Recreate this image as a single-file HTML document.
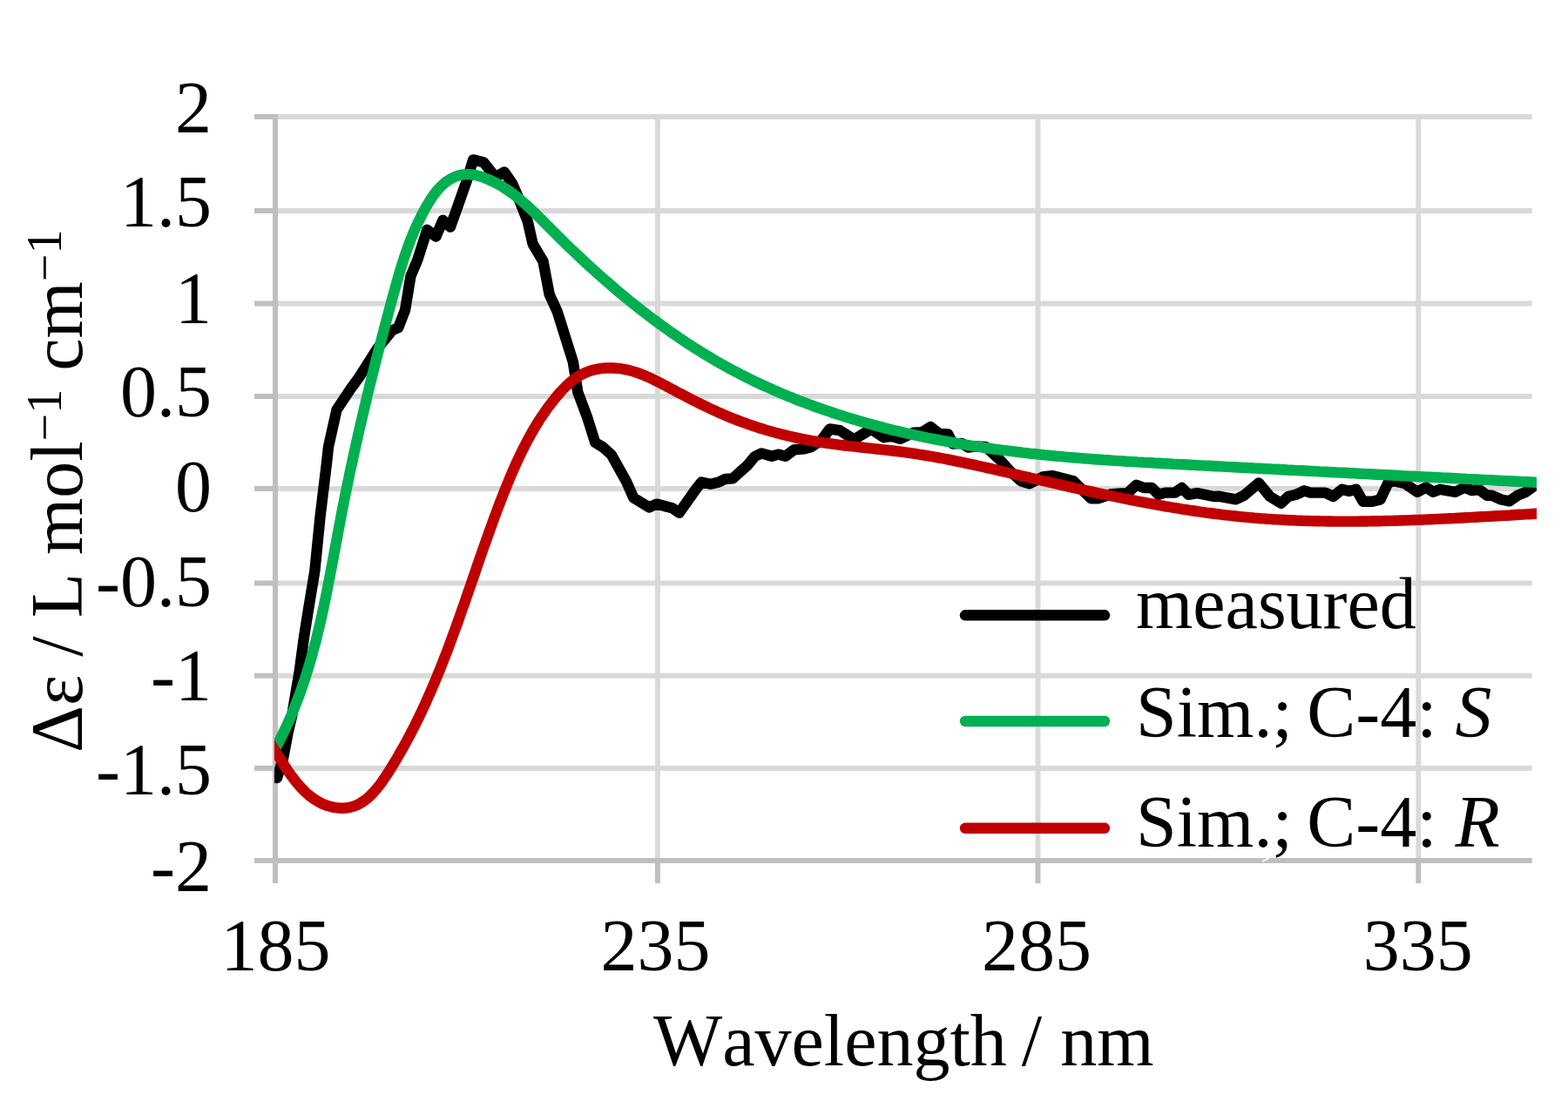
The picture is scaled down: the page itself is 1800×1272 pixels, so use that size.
<!DOCTYPE html>
<html><head><meta charset="utf-8"><style>html,body{margin:0;padding:0;background:#fff;}svg{display:block;}</style></head>
<body><svg width="1800" height="1272" viewBox="0 0 1800 1272">
<rect width="1800" height="1272" fill="#fff"/>
<g stroke="#d9d9d9" stroke-width="6"><line x1="316" y1="134" x2="1758.7" y2="134"/><line x1="316" y1="242" x2="1758.7" y2="242"/><line x1="316" y1="348.5" x2="1758.7" y2="348.5"/><line x1="316" y1="455" x2="1758.7" y2="455"/><line x1="316" y1="561" x2="1758.7" y2="561"/><line x1="316" y1="669.5" x2="1758.7" y2="669.5"/><line x1="316" y1="775.7" x2="1758.7" y2="775.7"/><line x1="316" y1="881.9" x2="1758.7" y2="881.9"/><line x1="754.9" y1="131" x2="754.9" y2="988"/><line x1="1191.5" y1="131" x2="1191.5" y2="988"/><line x1="1628.3" y1="131" x2="1628.3" y2="988"/></g>
<g stroke="#bfbfbf" stroke-width="6"><line x1="316" y1="131" x2="316" y2="1014"/><line x1="292" y1="988" x2="1758.7" y2="988"/><line x1="292" y1="134" x2="316" y2="134"/><line x1="292" y1="242" x2="316" y2="242"/><line x1="292" y1="348.5" x2="316" y2="348.5"/><line x1="292" y1="455" x2="316" y2="455"/><line x1="292" y1="561" x2="316" y2="561"/><line x1="292" y1="669.5" x2="316" y2="669.5"/><line x1="292" y1="775.7" x2="316" y2="775.7"/><line x1="292" y1="881.9" x2="316" y2="881.9"/><line x1="754.9" y1="988" x2="754.9" y2="1014"/><line x1="1191.5" y1="988" x2="1191.5" y2="1014"/><line x1="1628.3" y1="988" x2="1628.3" y2="1014"/></g>
<defs><clipPath id="pc"><rect x="315" y="0" width="1449" height="1272"/></clipPath></defs>
<g clip-path="url(#pc)" fill="none" stroke-linejoin="round" stroke-linecap="round">
<path d="M318.0,893.0 L324.9,871.4 L330.8,840.0 L335.0,822.6 L343.5,772.0 L349.0,731.4 L354.0,700.0 L361.3,655.8 L367.6,592.9 L375.2,530.0 L377.0,513.0 L386.5,470.5 L402.2,446.9 L412.4,432.8 L433.6,399.7 L450.2,379.3 L457.2,376.2 L465.1,355.7 L471.4,317.2 L479.3,298.4 L490.3,263.8 L500.5,271.6 L508.4,252.8 L517.0,260.6 L526.5,233.9 L535.9,207.2 L543.2,183.4 L555.0,186.2 L568.7,203.3 L579.0,197.5 L588.0,210.5 L594.8,226.3 L605.9,254.6 L611.6,280.0 L623.5,300.0 L630.7,338.0 L639.8,357.9 L657.9,415.7 L663.3,450.1 L674.1,479.0 L683.2,508.0 L692.2,513.4 L701.8,522.0 L719.1,553.1 L727.3,571.5 L745.4,582.5 L753.7,578.6 L771.8,583.3 L779.6,588.8 L798.5,562.1 L805.2,553.5 L815.8,555.8 L825.2,553.5 L832.2,550.0 L841.1,549.4 L857.8,534.4 L866.5,524.0 L874.2,520.4 L885.8,523.8 L893.3,521.6 L901.7,523.8 L911.7,516.3 L923.3,515.4 L930.8,513.3 L943.3,505.0 L952.5,492.5 L964.2,494.2 L980.5,504.5 L1000.0,492.6 L1014.4,502.2 L1023.3,500.6 L1033.3,503.9 L1048.3,496.8 L1058.3,496.2 L1068.3,490.1 L1078.3,497.9 L1088.3,498.4 L1093.9,509.6 L1103.9,508.9 L1111.7,513.6 L1118.9,512.5 L1131.1,512.9 L1133.5,514.8 L1148.7,528.8 L1160.3,541.7 L1172.0,552.2 L1181.9,555.2 L1197.0,547.5 L1207.8,546.1 L1232.2,552.2 L1252.2,572.2 L1261.1,572.2 L1274.4,567.5 L1286.7,566.5 L1294.0,566.5 L1304.4,556.7 L1313.3,560.0 L1322.2,560.0 L1330.0,567.8 L1337.8,565.6 L1348.9,565.6 L1356.7,560.0 L1364.4,567.8 L1374.4,566.1 L1393.3,570.0 L1400.0,569.8 L1418.9,573.3 L1427.8,568.9 L1445.0,554.4 L1457.8,570.0 L1470.6,577.8 L1478.9,570.0 L1487.8,567.8 L1497.2,563.3 L1504.4,565.6 L1521.1,565.6 L1530.6,570.0 L1540.6,561.7 L1548.9,563.9 L1556.7,561.7 L1564.7,575.8 L1575.2,575.8 L1584.5,573.5 L1593.8,553.7 L1600.8,552.5 L1612.5,554.8 L1627.1,564.8 L1637.0,559.5 L1645.2,564.8 L1653.3,561.8 L1670.8,564.8 L1681.3,559.5 L1689.5,563.0 L1697.7,561.8 L1707.0,568.8 L1712.8,568.8 L1723.3,573.5 L1732.7,575.3 L1742.0,568.8 L1751.3,565.0 L1764.0,556.0 L1770.0,552.0" fill="none" stroke="#000" stroke-width="12.4" stroke-linejoin="round"/>
<path d="M308.4,872.5 L310.6,868.9 L312.7,865.2 L314.7,861.6 L316.7,858.0 L318.7,854.3 L320.6,850.6 L322.5,846.9 L324.3,843.2 L326.1,839.5 L327.9,835.8 L329.6,832.1 L331.3,828.3 L333.0,824.6 L334.6,820.8 L336.2,817.0 L337.7,813.2 L339.2,809.4 L340.7,805.6 L342.2,801.8 L343.6,797.9 L345.0,794.1 L346.4,790.2 L347.7,786.3 L349.0,782.5 L350.3,778.6 L351.5,774.7 L352.7,770.8 L353.9,766.9 L355.1,763.0 L356.2,759.0 L357.4,755.1 L358.5,751.2 L359.5,747.2 L360.6,743.2 L361.6,739.3 L362.7,735.3 L363.7,731.3 L364.6,727.4 L365.6,723.4 L366.5,719.4 L367.5,715.4 L368.4,711.4 L369.3,707.4 L370.2,703.3 L371.0,699.3 L371.9,695.3 L372.7,691.3 L373.6,687.2 L374.4,683.2 L375.2,679.1 L376.0,675.1 L376.8,671.1 L377.6,667.0 L378.4,663.0 L379.2,658.9 L379.9,654.8 L380.7,650.8 L381.5,646.7 L382.2,642.7 L383.0,638.6 L383.7,634.5 L384.5,630.5 L385.2,626.4 L386.0,622.3 L386.8,618.3 L387.5,614.2 L388.3,610.1 L389.0,606.1 L389.8,602.0 L390.6,597.9 L391.3,593.9 L392.1,589.8 L392.9,585.8 L393.7,581.7 L394.5,577.6 L395.3,573.6 L396.1,569.5 L396.9,565.5 L397.8,561.4 L398.6,557.4 L399.4,553.3 L400.3,549.3 L401.1,545.2 L402.0,541.2 L402.8,537.2 L403.7,533.1 L404.6,529.1 L405.4,525.0 L406.3,521.0 L407.2,517.0 L408.1,512.9 L409.0,508.9 L409.9,504.9 L410.8,500.9 L411.7,496.8 L412.6,492.8 L413.5,488.8 L414.5,484.8 L415.4,480.8 L416.3,476.8 L417.3,472.7 L418.2,468.7 L419.2,464.7 L420.1,460.7 L421.1,456.7 L422.0,452.7 L423.0,448.7 L424.0,444.7 L424.9,440.7 L425.9,436.7 L426.9,432.7 L427.9,428.8 L428.9,424.8 L429.9,420.8 L430.9,416.8 L431.9,412.8 L432.9,408.8 L433.9,404.9 L434.9,400.9 L436.0,396.9 L437.0,392.9 L438.0,389.0 L439.0,385.0 L440.1,381.1 L441.1,377.1 L442.2,373.1 L443.2,369.2 L444.3,365.2 L445.3,361.3 L446.4,357.3 L447.4,353.4 L448.5,349.5 L449.6,345.5 L450.6,341.6 L451.7,337.6 L452.8,333.7 L453.9,329.8 L455.0,325.9 L456.1,321.9 L457.2,318.0 L458.3,314.1 L459.5,310.2 L460.7,306.3 L461.9,302.4 L463.2,298.5 L464.4,294.6 L465.8,290.7 L467.1,286.8 L468.5,283.0 L469.9,279.1 L471.4,275.2 L473.0,271.4 L474.5,267.6 L476.2,263.7 L477.9,259.9 L479.6,256.1 L481.5,252.3 L483.3,248.5 L485.3,244.7 L487.3,240.9 L489.4,237.1 L491.6,233.4 L493.9,229.7 L496.2,226.2 L498.7,222.7 L501.3,219.4 L504.0,216.3 L506.8,213.4 L509.8,210.7 L512.9,208.2 L516.1,206.1 L519.6,204.2 L523.1,202.6 L526.8,201.4 L530.7,200.6 L534.7,200.1 L538.8,200.1 L542.8,200.5 L546.9,201.3 L550.9,202.4 L554.9,203.7 L558.8,205.2 L562.6,206.8 L566.3,208.6 L570.0,210.5 L573.6,212.4 L577.1,214.5 L580.5,216.7 L583.9,219.0 L587.2,221.3 L590.4,223.7 L593.6,226.2 L596.7,228.8 L599.8,231.4 L602.9,234.1 L605.9,236.9 L608.9,239.6 L611.9,242.5 L614.8,245.3 L617.8,248.2 L620.7,251.1 L623.6,254.0 L626.5,257.0 L629.4,259.9 L632.3,262.8 L635.2,265.8 L638.2,268.7 L641.1,271.6 L644.0,274.5 L647.0,277.4 L649.9,280.3 L652.9,283.2 L655.9,286.1 L658.9,288.9 L661.9,291.8 L664.9,294.6 L667.9,297.4 L670.9,300.3 L674.0,303.1 L677.0,305.9 L680.1,308.7 L683.2,311.4 L686.2,314.2 L689.3,316.9 L692.4,319.7 L695.5,322.4 L698.7,325.1 L701.8,327.8 L704.9,330.5 L708.1,333.2 L711.3,335.9 L714.4,338.5 L717.6,341.1 L720.8,343.7 L724.0,346.4 L727.2,348.9 L730.5,351.5 L733.7,354.1 L736.9,356.6 L740.2,359.1 L743.5,361.6 L746.8,364.1 L750.0,366.6 L753.4,369.1 L756.7,371.5 L760.0,373.9 L763.3,376.3 L766.7,378.7 L770.0,381.1 L773.4,383.4 L776.8,385.8 L780.2,388.1 L783.6,390.4 L787.0,392.7 L790.5,394.9 L793.9,397.1 L797.3,399.4 L800.8,401.6 L804.3,403.7 L807.8,405.9 L811.3,408.0 L814.8,410.1 L818.3,412.2 L821.9,414.3 L825.4,416.3 L829.0,418.3 L832.6,420.3 L836.2,422.3 L839.8,424.3 L843.4,426.2 L847.0,428.1 L850.6,430.0 L854.3,431.8 L857.9,433.7 L861.6,435.5 L865.3,437.3 L869.0,439.1 L872.7,440.8 L876.4,442.5 L880.1,444.2 L883.9,445.9 L887.6,447.6 L891.4,449.2 L895.1,450.9 L898.9,452.5 L902.7,454.0 L906.5,455.6 L910.3,457.1 L914.1,458.7 L917.9,460.2 L921.8,461.6 L925.6,463.1 L929.5,464.5 L933.3,465.9 L937.2,467.3 L941.1,468.7 L945.0,470.1 L948.8,471.4 L952.7,472.7 L956.6,474.0 L960.6,475.3 L964.5,476.6 L968.4,477.8 L972.3,479.1 L976.3,480.3 L980.2,481.5 L984.2,482.6 L988.1,483.8 L992.1,484.9 L996.1,486.0 L1000.1,487.1 L1004.0,488.2 L1008.0,489.3 L1012.0,490.3 L1016.0,491.4 L1020.0,492.4 L1024.0,493.4 L1028.0,494.4 L1032.0,495.3 L1036.1,496.3 L1040.1,497.2 L1044.1,498.1 L1048.2,499.0 L1052.2,499.9 L1056.2,500.8 L1060.3,501.6 L1064.3,502.5 L1068.4,503.3 L1072.4,504.1 L1076.5,504.9 L1080.5,505.7 L1084.6,506.4 L1088.7,507.2 L1092.7,507.9 L1096.8,508.6 L1100.8,509.3 L1104.9,510.0 L1109.0,510.7 L1113.1,511.3 L1117.1,512.0 L1121.2,512.6 L1125.3,513.2 L1129.4,513.8 L1133.4,514.4 L1137.5,515.0 L1141.6,515.6 L1145.7,516.1 L1149.7,516.7 L1153.8,517.2 L1157.9,517.7 L1162.0,518.2 L1166.1,518.7 L1170.2,519.2 L1174.2,519.7 L1178.3,520.1 L1182.4,520.6 L1186.5,521.0 L1190.6,521.4 L1194.7,521.9 L1198.8,522.3 L1202.9,522.7 L1207.0,523.1 L1211.1,523.5 L1215.2,523.8 L1219.2,524.2 L1223.3,524.6 L1227.4,524.9 L1231.5,525.3 L1235.6,525.6 L1239.7,525.9 L1243.8,526.3 L1247.9,526.6 L1252.0,526.9 L1256.1,527.2 L1260.2,527.5 L1264.3,527.8 L1268.4,528.1 L1272.5,528.3 L1276.6,528.6 L1280.7,528.9 L1284.8,529.1 L1289.0,529.4 L1293.1,529.7 L1297.2,529.9 L1301.3,530.1 L1305.4,530.4 L1309.5,530.6 L1313.6,530.9 L1317.7,531.1 L1321.8,531.3 L1325.9,531.6 L1330.0,531.8 L1334.1,532.0 L1338.2,532.2 L1342.3,532.4 L1346.5,532.7 L1350.6,532.9 L1354.7,533.1 L1358.8,533.3 L1362.9,533.5 L1367.0,533.7 L1371.1,533.9 L1375.2,534.2 L1379.3,534.4 L1383.4,534.6 L1387.6,534.8 L1391.7,535.0 L1395.8,535.2 L1399.9,535.4 L1404.0,535.6 L1408.1,535.9 L1412.2,536.1 L1416.3,536.3 L1420.5,536.5 L1424.6,536.7 L1428.7,536.9 L1432.8,537.1 L1436.9,537.3 L1441.0,537.6 L1445.1,537.8 L1449.2,538.0 L1453.4,538.2 L1457.5,538.4 L1461.6,538.6 L1465.7,538.8 L1469.8,539.0 L1473.9,539.2 L1478.0,539.5 L1482.1,539.7 L1486.3,539.9 L1490.4,540.1 L1494.5,540.3 L1498.6,540.5 L1502.7,540.7 L1506.8,540.9 L1510.9,541.1 L1515.1,541.4 L1519.2,541.6 L1523.3,541.8 L1527.4,542.0 L1531.5,542.2 L1535.6,542.4 L1539.7,542.6 L1543.9,542.8 L1548.0,543.0 L1552.1,543.2 L1556.2,543.4 L1560.3,543.7 L1564.4,543.9 L1568.5,544.1 L1572.6,544.3 L1576.8,544.5 L1580.9,544.7 L1585.0,544.9 L1589.1,545.1 L1593.2,545.3 L1597.3,545.5 L1601.4,545.7 L1605.6,545.9 L1609.7,546.2 L1613.8,546.4 L1617.9,546.6 L1622.0,546.8 L1626.1,547.0 L1630.2,547.2 L1634.3,547.4 L1638.5,547.6 L1642.6,547.8 L1646.7,548.0 L1650.8,548.2 L1654.9,548.4 L1659.0,548.6 L1663.1,548.8 L1667.2,549.0 L1671.4,549.2 L1675.5,549.4 L1679.6,549.6 L1683.7,549.9 L1687.8,550.1 L1691.9,550.3 L1696.0,550.5 L1700.1,550.7 L1704.2,550.9 L1708.3,551.1 L1712.5,551.3 L1716.6,551.5 L1720.7,551.7 L1724.8,551.9 L1728.9,552.1 L1733.0,552.3 L1737.1,552.5 L1741.2,552.7 L1745.3,552.9 L1749.4,553.1 L1753.5,553.3 L1757.7,553.5 L1761.8,553.7 L1765.9,553.9 L1770.0,554.1" fill="none" stroke="#00b050" stroke-width="12.4" stroke-linejoin="round"/>
<path d="M308.0,850.1 L310.1,853.2 L312.1,856.2 L314.1,859.3 L316.0,862.4 L318.0,865.4 L319.9,868.5 L321.8,871.6 L323.8,874.6 L325.7,877.7 L327.7,880.7 L329.7,883.7 L331.8,886.7 L333.9,889.7 L336.1,892.7 L338.3,895.6 L340.6,898.5 L343.0,901.3 L345.5,904.1 L348.1,906.8 L350.8,909.5 L353.6,912.0 L356.5,914.4 L359.6,916.6 L362.7,918.7 L365.9,920.6 L369.3,922.4 L372.8,923.8 L376.4,925.1 L380.0,926.1 L383.7,926.9 L387.3,927.5 L390.9,927.7 L394.5,927.7 L397.9,927.5 L401.3,926.9 L404.5,926.1 L407.7,925.0 L410.7,923.7 L413.6,922.1 L416.4,920.4 L419.2,918.4 L421.9,916.3 L424.5,914.0 L427.0,911.5 L429.4,908.9 L431.8,906.2 L434.1,903.4 L436.4,900.4 L438.6,897.4 L440.7,894.3 L442.9,891.2 L444.9,888.0 L447.0,884.8 L449.0,881.5 L451.0,878.3 L453.0,875.0 L454.9,871.8 L456.8,868.5 L458.7,865.2 L460.6,862.0 L462.5,858.7 L464.3,855.4 L466.1,852.1 L467.9,848.8 L469.6,845.5 L471.4,842.2 L473.1,838.9 L474.8,835.6 L476.5,832.2 L478.1,828.9 L479.8,825.6 L481.4,822.3 L483.0,818.9 L484.6,815.6 L486.1,812.2 L487.7,808.9 L489.2,805.5 L490.7,802.1 L492.2,798.8 L493.7,795.4 L495.2,792.0 L496.6,788.7 L498.1,785.3 L499.5,781.9 L500.9,778.5 L502.3,775.1 L503.7,771.7 L505.1,768.3 L506.4,764.9 L507.8,761.5 L509.1,758.1 L510.5,754.7 L511.8,751.3 L513.1,747.9 L514.4,744.4 L515.7,741.0 L516.9,737.6 L518.2,734.2 L519.5,730.7 L520.7,727.3 L522.0,723.9 L523.2,720.5 L524.5,717.0 L525.7,713.6 L526.9,710.1 L528.1,706.7 L529.3,703.3 L530.5,699.8 L531.8,696.4 L533.0,692.9 L534.2,689.5 L535.3,686.0 L536.5,682.6 L537.7,679.1 L538.9,675.7 L540.1,672.2 L541.3,668.8 L542.5,665.3 L543.7,661.8 L544.9,658.4 L546.1,654.9 L547.2,651.5 L548.4,648.0 L549.6,644.6 L550.8,641.1 L552.0,637.6 L553.2,634.2 L554.4,630.7 L555.6,627.3 L556.9,623.8 L558.1,620.4 L559.3,616.9 L560.5,613.5 L561.8,610.0 L563.0,606.6 L564.3,603.1 L565.5,599.7 L566.8,596.2 L568.0,592.8 L569.3,589.3 L570.6,585.9 L571.9,582.4 L573.2,579.0 L574.5,575.5 L575.9,572.1 L577.2,568.7 L578.6,565.2 L579.9,561.8 L581.3,558.4 L582.7,555.0 L584.1,551.5 L585.5,548.1 L587.0,544.7 L588.4,541.3 L589.9,537.9 L591.4,534.6 L592.9,531.2 L594.5,527.8 L596.1,524.5 L597.6,521.2 L599.3,517.8 L600.9,514.5 L602.6,511.3 L604.3,508.0 L606.0,504.7 L607.8,501.5 L609.6,498.3 L611.4,495.1 L613.2,491.9 L615.1,488.8 L617.1,485.6 L619.0,482.5 L621.0,479.4 L623.1,476.4 L625.2,473.3 L627.3,470.3 L629.4,467.3 L631.6,464.4 L633.9,461.4 L636.2,458.5 L638.5,455.7 L640.9,452.9 L643.3,450.1 L645.8,447.4 L648.4,444.7 L651.0,442.2 L653.7,439.7 L656.5,437.4 L659.3,435.2 L662.3,433.2 L665.3,431.3 L668.4,429.6 L671.6,428.0 L674.9,426.7 L678.3,425.5 L681.8,424.5 L685.4,423.8 L689.0,423.2 L692.7,422.7 L696.4,422.5 L700.1,422.4 L703.8,422.5 L707.5,422.7 L711.3,423.1 L714.9,423.6 L718.6,424.3 L722.2,425.1 L725.8,426.1 L729.3,427.1 L732.8,428.3 L736.2,429.6 L739.6,431.0 L743.0,432.4 L746.4,433.9 L749.7,435.5 L753.0,437.2 L756.3,438.8 L759.6,440.5 L762.9,442.2 L766.1,444.0 L769.4,445.7 L772.7,447.4 L775.9,449.2 L779.2,450.9 L782.5,452.6 L785.7,454.3 L789.0,456.0 L792.3,457.7 L795.6,459.4 L798.8,461.0 L802.1,462.7 L805.4,464.3 L808.7,465.9 L812.0,467.5 L815.3,469.1 L818.7,470.6 L822.0,472.2 L825.3,473.7 L828.7,475.1 L832.1,476.6 L835.4,478.0 L838.8,479.4 L842.2,480.8 L845.6,482.1 L849.0,483.4 L852.5,484.7 L855.9,485.9 L859.3,487.2 L862.8,488.4 L866.3,489.5 L869.8,490.7 L873.2,491.8 L876.7,492.8 L880.2,493.9 L883.8,494.9 L887.3,495.9 L890.8,496.9 L894.4,497.8 L897.9,498.7 L901.5,499.6 L905.0,500.5 L908.6,501.3 L912.2,502.1 L915.7,502.9 L919.3,503.6 L922.9,504.3 L926.5,505.0 L930.1,505.7 L933.8,506.3 L937.4,506.9 L941.0,507.5 L944.6,508.1 L948.3,508.6 L951.9,509.1 L955.6,509.6 L959.2,510.1 L962.9,510.6 L966.5,511.0 L970.2,511.5 L973.8,511.9 L977.5,512.3 L981.1,512.7 L984.8,513.1 L988.5,513.5 L992.1,513.9 L995.8,514.3 L999.5,514.7 L1003.1,515.1 L1006.8,515.5 L1010.4,515.9 L1014.1,516.3 L1017.8,516.7 L1021.4,517.1 L1025.1,517.5 L1028.7,518.0 L1032.4,518.4 L1036.0,518.9 L1039.7,519.4 L1043.3,519.9 L1046.9,520.4 L1050.6,520.9 L1054.2,521.5 L1057.8,522.1 L1061.4,522.7 L1065.1,523.3 L1068.7,523.9 L1072.3,524.5 L1075.9,525.2 L1079.5,525.9 L1083.1,526.5 L1086.7,527.2 L1090.3,527.9 L1093.9,528.6 L1097.5,529.4 L1101.1,530.1 L1104.7,530.8 L1108.2,531.6 L1111.8,532.4 L1115.4,533.1 L1119.0,533.9 L1122.6,534.7 L1126.2,535.5 L1129.7,536.3 L1133.3,537.1 L1136.9,537.9 L1140.5,538.7 L1144.0,539.5 L1147.6,540.4 L1151.2,541.2 L1154.8,542.0 L1158.3,542.8 L1161.9,543.7 L1165.5,544.5 L1169.1,545.3 L1172.6,546.2 L1176.2,547.0 L1179.8,547.8 L1183.4,548.7 L1187.0,549.5 L1190.5,550.3 L1194.1,551.2 L1197.7,552.0 L1201.3,552.8 L1204.9,553.6 L1208.4,554.5 L1212.0,555.3 L1215.6,556.1 L1219.2,556.9 L1222.8,557.7 L1226.4,558.6 L1230.0,559.4 L1233.5,560.2 L1237.1,561.0 L1240.7,561.8 L1244.3,562.6 L1247.9,563.3 L1251.5,564.1 L1255.1,564.9 L1258.7,565.7 L1262.3,566.5 L1265.9,567.2 L1269.5,568.0 L1273.1,568.8 L1276.7,569.5 L1280.3,570.2 L1283.9,571.0 L1287.5,571.7 L1291.1,572.5 L1294.7,573.2 L1298.3,573.9 L1301.9,574.6 L1305.5,575.3 L1309.1,576.0 L1312.7,576.7 L1316.3,577.4 L1319.9,578.0 L1323.5,578.7 L1327.1,579.3 L1330.8,580.0 L1334.4,580.6 L1338.0,581.3 L1341.6,581.9 L1345.2,582.5 L1348.8,583.1 L1352.5,583.7 L1356.1,584.3 L1359.7,584.8 L1363.3,585.4 L1367.0,586.0 L1370.6,586.5 L1374.2,587.0 L1377.8,587.6 L1381.5,588.1 L1385.1,588.6 L1388.7,589.0 L1392.4,589.5 L1396.0,590.0 L1399.6,590.4 L1403.3,590.9 L1406.9,591.3 L1410.6,591.7 L1414.2,592.1 L1417.9,592.5 L1421.5,592.9 L1425.1,593.3 L1428.8,593.6 L1432.4,593.9 L1436.1,594.3 L1439.8,594.6 L1443.4,594.9 L1447.1,595.2 L1450.7,595.4 L1454.4,595.7 L1458.0,595.9 L1461.7,596.2 L1465.4,596.4 L1469.0,596.6 L1472.7,596.8 L1476.4,597.0 L1480.0,597.2 L1483.7,597.3 L1487.4,597.5 L1491.0,597.6 L1494.7,597.8 L1498.4,597.9 L1502.0,598.0 L1505.7,598.1 L1509.4,598.2 L1513.1,598.3 L1516.7,598.4 L1520.4,598.4 L1524.1,598.5 L1527.8,598.5 L1531.4,598.6 L1535.1,598.6 L1538.8,598.6 L1542.5,598.6 L1546.1,598.6 L1549.8,598.6 L1553.5,598.6 L1557.2,598.6 L1560.9,598.5 L1564.5,598.5 L1568.2,598.5 L1571.9,598.4 L1575.6,598.3 L1579.3,598.3 L1582.9,598.2 L1586.6,598.1 L1590.3,598.0 L1594.0,597.9 L1597.7,597.9 L1601.3,597.7 L1605.0,597.6 L1608.7,597.5 L1612.4,597.4 L1616.1,597.3 L1619.7,597.1 L1623.4,597.0 L1627.1,596.9 L1630.8,596.7 L1634.5,596.6 L1638.1,596.4 L1641.8,596.3 L1645.5,596.1 L1649.2,595.9 L1652.8,595.8 L1656.5,595.6 L1660.2,595.4 L1663.9,595.2 L1667.5,595.1 L1671.2,594.9 L1674.9,594.7 L1678.5,594.5 L1682.2,594.3 L1685.9,594.1 L1689.5,593.9 L1693.2,593.7 L1696.9,593.5 L1700.5,593.3 L1704.2,593.1 L1707.9,592.9 L1711.5,592.7 L1715.2,592.5 L1718.8,592.3 L1722.5,592.1 L1726.2,591.9 L1729.8,591.7 L1733.5,591.5 L1737.1,591.2 L1740.8,591.0 L1744.4,590.8 L1748.1,590.6 L1751.7,590.4 L1755.4,590.2 L1759.0,590.0 L1762.6,589.8 L1766.3,589.6 L1769.9,589.4" fill="none" stroke="#c00000" stroke-width="12.4" stroke-linejoin="round"/>
</g>
<g font-family="'Liberation Serif', serif" font-size="84" fill="#000" style="font-kerning:none"><text x="243" y="152.0" text-anchor="end">2</text><text x="243" y="259.7" text-anchor="end">1.5</text><text x="243" y="370.8" text-anchor="end">1</text><text x="243" y="478.0" text-anchor="end">0.5</text><text x="243" y="587.0" text-anchor="end">0</text><text x="243" y="696.0" text-anchor="end">-0.5</text><text x="243" y="803.7" text-anchor="end">-1</text><text x="243" y="911.7" text-anchor="end">-1.5</text><text x="243" y="1022.5" text-anchor="end">-2</text><text x="316.4" y="1114" text-anchor="middle">185</text><text x="752.4" y="1114" text-anchor="middle">235</text><text x="1190.1" y="1114" text-anchor="middle">285</text><text x="1627.7" y="1114" text-anchor="middle">335</text><text x="750" y="1223">Wavelength<tspan dx="-4"> / nm</tspan></text><text transform="translate(94,864) rotate(-90)">&#916;&#949; / L mol<tspan font-size="56" dy="-24.5">&#8722;1</tspan><tspan dy="24.5"> cm</tspan><tspan font-size="56" dy="-24.5">&#8722;1</tspan></text><line x1="1108" y1="706.3" x2="1268" y2="706.3" stroke="#000" stroke-width="12.4" stroke-linecap="round"/><text x="1304" y="721">measured</text><line x1="1108" y1="828" x2="1268" y2="828" stroke="#00b050" stroke-width="12.4" stroke-linecap="round"/><text x="1304" y="846">Sim.;<tspan dx="-4.5"> C-4: </tspan><tspan font-style="italic">S</tspan></text><line x1="1108" y1="950.8" x2="1268" y2="950.8" stroke="#c00000" stroke-width="12.4" stroke-linecap="round"/><text x="1304" y="972">Sim.;<tspan dx="-4.5"> C-4: </tspan><tspan font-style="italic">R</tspan></text></g>
<line x1="1449.5" y1="988.8" x2="1456.5" y2="985.3" stroke="#fff" stroke-width="1.6" stroke-linecap="round"/>
</svg></body></html>
